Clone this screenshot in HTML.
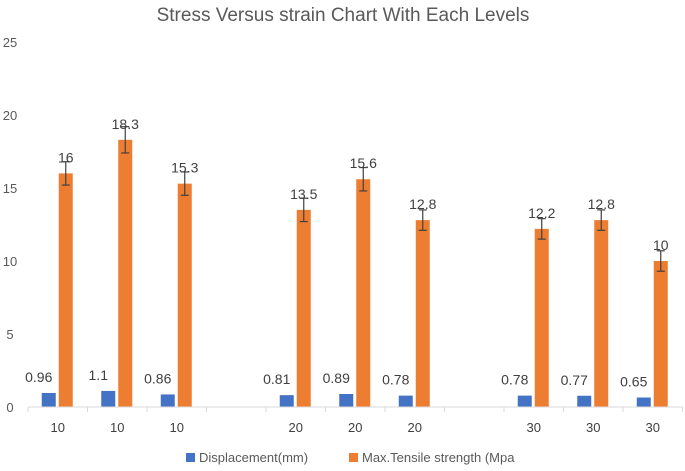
<!DOCTYPE html>
<html><head><meta charset="utf-8"><style>
body{margin:0;background:#fff;font-family:"Liberation Sans",sans-serif;}
svg text{font-family:"Liberation Sans",sans-serif;}
</style></head><body>
<svg id="chart" width="685" height="466">
<text x="343" y="21" text-anchor="middle" font-size="19" fill="#595959">Stress Versus strain Chart With Each Levels</text>
<g id="yaxis"></g><g id="bars"></g><g id="xaxis"></g>
<g>
<rect x="186" y="453" width="9" height="9" fill="#4472C4"/>
<text x="199" y="462" font-size="13" fill="#595959">Displacement(mm)</text>
<rect x="349" y="453" width="9" height="9" fill="#ED7D31"/>
<text x="362" y="462" font-size="13" fill="#595959">Max.Tensile strength (Mpa</text>
</g>
</svg>
<script>
const categories=["10","10","10","","20","20","20","","30","30","30"];
const displacement=[0.96,1.1,0.86,null,0.81,0.89,0.78,null,0.78,0.77,0.65];
const tensile=[16,18.3,15.3,null,13.5,15.6,12.8,null,12.2,12.8,10];
const errors=[0.8,0.9,0.8,null,0.8,0.8,0.7,null,0.7,0.7,0.7];
const yTicks=[0,5,10,15,20,25];
const NS="http://www.w3.org/2000/svg";
const x0=28,catW=59.5,y0=407,yScale=14.6;
const X=i=>x0+catW*(i+0.5);
const Y=v=>y0-v*yScale;
function mk(tag,attrs,parent,text){const e=document.createElementNS(NS,tag);for(const k in attrs)e.setAttribute(k,attrs[k]);if(text!==undefined)e.textContent=text;parent.appendChild(e);return e;}
const ya=document.getElementById('yaxis'),bg=document.getElementById('bars'),xa=document.getElementById('xaxis');
yTicks.forEach(t=>{const e=mk('text',{x:10,y:Y(t)+5,'text-anchor':'middle','font-size':13,fill:'#595959'},ya,String(t));

});
const ax=mk('line',{x1:x0,y1:y0,x2:x0+catW*categories.length,y2:y0,stroke:'#D9D9D9'},xa);


for(let i=0;i<=categories.length;i++){const t=mk('line',{x1:x0+catW*i,y1:y0,x2:x0+catW*i,y2:y0+5,stroke:'#D9D9D9'},xa);

}
categories.forEach((c,i)=>{
 if(c){const l=mk('text',{x:X(i),y:432,'text-anchor':'middle','font-size':13,fill:'#404040'},xa,c);
 
 }
 if(displacement[i]!=null){const v=displacement[i];
  const b=mk('rect',{x:X(i)-16,y:Y(v),width:14,height:v*yScale,fill:'#4472C4'},bg);
  
  
  const t=mk('text',{x:X(i)-19,y:Y(v)-11,'text-anchor':'middle','font-size':14,fill:'#404040'},bg,String(v));
  
  }
 if(tensile[i]!=null){const v=tensile[i],e=errors[i];
  const b=mk('rect',{x:X(i)+1,y:Y(v),width:14,height:v*yScale,fill:'#ED7D31'},bg);
  
  
  const cx=X(i)+8;
  const g=mk('g',{stroke:'#404040','stroke-width':1.2},bg);
  
  
  mk('line',{x1:cx,y1:Y(v+e),x2:cx,y2:Y(v-e)},g);
  mk('line',{x1:cx-4,y1:Y(v+e),x2:cx+4,y2:Y(v+e)},g);
  mk('line',{x1:cx-4,y1:Y(v-e),x2:cx+4,y2:Y(v-e)},g);
  const t=mk('text',{x:cx,y:Y(v)-11,'text-anchor':'middle','font-size':14,fill:'#404040'},bg,String(v));
  
  }
});
</script>
</body></html>
